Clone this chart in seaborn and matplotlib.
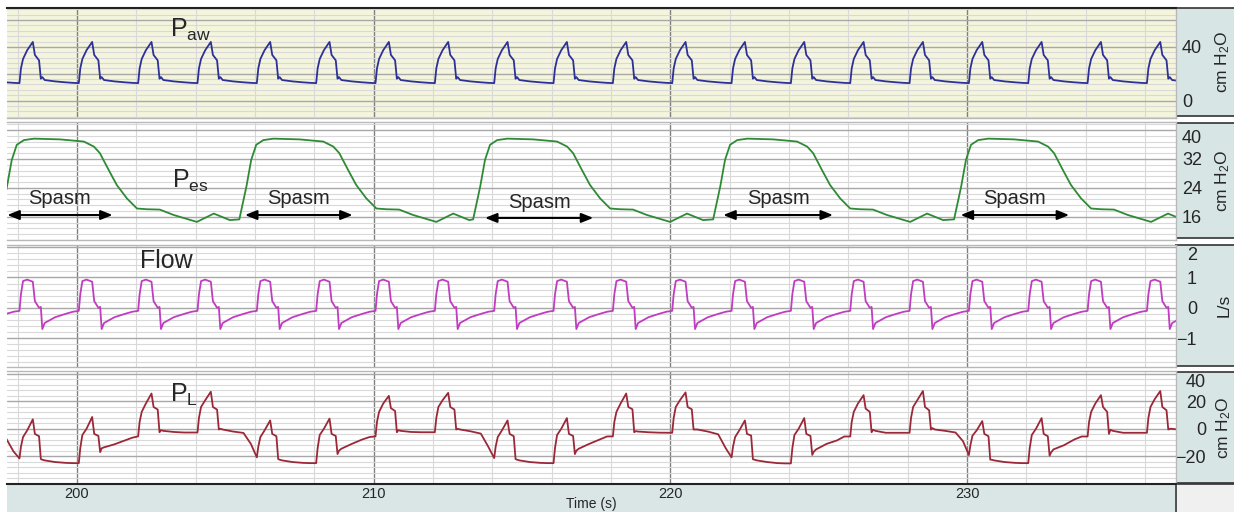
import pandas as pd
import seaborn as sns
import matplotlib.pyplot as plt
from matplotlib.ticker import MultipleLocator, FixedLocator

# ---- values ----
# onset of each ventilator breath (s)
breath_t0 = [196.06, 198.06, 200.06, 202.06, 204.06, 206.06, 208.06, 210.06, 212.06, 214.06,
             216.06, 218.06, 220.06, 222.06, 224.06, 226.06, 228.06, 230.06, 232.06, 234.06, 236.06]
# sample points inside one breath (s after onset)
breath_dt = [0.0, 0.05, 0.12, 0.26, 0.45, 0.52, 0.66, 0.72, 0.77, 0.85, 1.2, 1.55, 1.8]
paw_breath = [13, 24, 31, 37.5, 43.7, 34, 30, 16.3, 17.5, 15.3, 14.3, 13.6, 13.2]
flow_breath = [-0.1, 0.45, 0.88, 0.93, 0.86, 0.22, 0.0, 0.03, -0.7, -0.5, -0.31, -0.2, -0.13]
# transpulmonary pressure, one row per breath
pl_breaths = [
    [-2.7, 8, 15.9, 20.8, 27, 15.9, 14, -0.5, 0, -0.5, -2, -7, -16.5],
    [-21.6, -13, -6, -1.2, 6.9, -3.7, -5.4, -22, -22.5, -23, -24.2, -24.8, -25],
    [-25, -14, -4.5, 0, 8.6, -3.7, -5.2, -17, -14.2, -13.5, -11.3, -8.5, -6.5],
    [-5.5, 5, 12.3, 18.4, 25.7, 15.9, 14, -2.5, -1, -1.5, -2.3, -2.7, -2.7],
    [-2.7, 8, 15.9, 20.8, 27, 15.9, 14, -0.5, 0, -0.5, -2, -3, -11],
    [-20.8, -13, -6, -1.2, 6.1, -3.7, -5.4, -22, -22.5, -23, -24.2, -24.8, -25],
    [-25, -14, -4.5, 0, 7.4, -3.7, -5.2, -18.4, -15.9, -14.5, -11, -7.8, -6],
    [-5.5, 5, 12.3, 18.4, 24, 15, 13, -2.5, -1, -1.5, -2.3, -2.5, -2.5],
    [-2.5, 8, 15.9, 20.8, 26.2, 15.9, 14, -0.5, 0, -0.5, -1.8, -3.5, -13],
    [-21.3, -13, -6, -1.2, 6.1, -3.7, -5.4, -22, -22.5, -23, -24.2, -24.8, -25],
    [-25, -14, -4.5, 0, 7.8, -3.7, -5.2, -18.4, -15.9, -14.5, -11, -7.8, -5.6],
    [-5.5, 5, 12.3, 18.4, 25.7, 15.9, 14.2, -2.5, -1.7, -2, -2.5, -2.8, -2.9],
    [-2.9, 8, 15.9, 20.8, 26.5, 15.9, 14.2, -0.5, -0.5, -0.5, -2, -4, -14],
    [-20.8, -13, -6, -1.2, 6.1, -3.7, -4.9, -22.1, -22.5, -23, -24.2, -25, -25.2],
    [-25.2, -14, -4.5, 0, 7.8, -3.7, -5.2, -19, -16.7, -15, -11, -8.5, -5.6],
    [-5.6, 5, 12.3, 18.4, 24.5, 14.7, 12.3, -2.5, -0.7, -1.5, -2.9, -2.9, -2.9],
    [-2.9, 8, 15.9, 20.8, 27.5, 15.9, 13.5, -0.5, 0.5, -0.5, -1.5, -2.7, -9],
    [-19.1, -12, -5, -1.2, 5.6, -3.7, -5.4, -22.5, -22.5, -23, -24.2, -24.8, -25],
    [-25, -14, -4.5, 0, 7.8, -3.7, -5.4, -19.6, -17.2, -15, -12, -7.8, -5.6],
    [-5.6, 5, 12.3, 18.4, 24.5, 15.9, 12.3, -3.7, -0.7, -1.5, -2.9, -2.9, -2.9],
    [-2.9, 8, 15.9, 21.5, 27.5, 15.9, 13.5, -0.5, 0, 0, -1, -2, -3],
]
# oesophageal pressure, start of each spasm rise (s) and one spasm cycle
pes_t0 = [197.40, 205.47, 213.35, 221.44, 229.56]
pes_dt = [0, 0.24, 0.40, 0.57, 0.81, 1.15, 2.02, 2.83, 3.17, 3.37, 3.67, 3.94,
          4.28, 4.62, 4.95, 5.39, 5.86, 6.64, 7.21, 7.75]
pes_cycle = [15.3, 24.4, 31.7, 35.9, 37.2, 37.6, 37.4, 36.8, 35.4, 33.6, 28.9, 24.8,
             21.1, 18.3, 18.1, 18.0, 16.5, 14.6, 16.9, 15.1]
# spasm arrows (s)
spasm_start = [197.65, 205.66, 213.75, 221.78, 229.78]
spasm_end = [201.2, 209.29, 217.40, 225.48, 233.44]
spasm_y = [16.5, 16.5, 15.7, 16.5, 16.5]
time_ticks = [200, 210, 220, 230]


def build(t0s, dts, rows):
    t, v = [], []
    for t0, row in zip(t0s, rows):
        t.extend(t0 + d for d in dts)
        v.extend(row)
    return pd.DataFrame({'t': t, 'v': v})


paw = build(breath_t0, breath_dt, [paw_breath] * len(breath_t0))
flow = build(breath_t0, breath_dt, [flow_breath] * len(breath_t0))
pl = build(breath_t0, breath_dt, pl_breaths)
pes = build(pes_t0, pes_dt, [pes_cycle] * len(pes_t0))

sns.set_style('white')
plt.rcParams['font.family'] = ['Liberation Sans', 'DejaVu Sans']
plt.rcParams['mathtext.fontset'] = 'custom'
plt.rcParams['mathtext.rm'] = 'Liberation Sans'
plt.rcParams['mathtext.it'] = 'Liberation Sans'

W, H = 1234, 512
fig = plt.figure(figsize=(W / 100, H / 100), dpi=100)


def px_axes(x0, y0, x1, y1):
    return fig.add_axes([x0 / W, 1 - y1 / H, (x1 - x0) / W, (y1 - y0) / H])


NARROW = ['Liberation Sans Narrow', 'Liberation Sans']
MINUS = '\u2212'
BOX_FC = '#d8e5e5'

# (y0, y1, data, colour, ylim, grid majors, minor step, labels, bg, unit, box y, label x, pad, align)
panels = [
    (8, 118, paw, '#2d3196', (-13, 69), [0, 20, 40, 60], 4,
     ['0', '', '40', ''], '#f4f5dc', 'cm H$_\\mathrm{2}$O', (8, 116), 0.78, 4.3, 'left'),
    (122, 240, pes, '#2f8a35', (9.6, 42.2), [16, 24, 32, 40], 1.6,
     ['16', '24', '32', '40'], 'white', 'cm H$_\\mathrm{2}$O', (122.7, 238.3), 0.78, 4.3, 'left'),
    (245, 367, flow, '#c03cc0', (-1.95, 2.07), [-1, 0, 1, 2], 0.2,
     [MINUS + '1', '0', '1', '2'], 'white', 'L/s', (245, 366), 0.8, 15.1, 'right'),
    (371, 484, pl, '#9b2838', (-40.2, 42.1), [-40, -20, 0, 20, 40], 4,
     ['', MINUS + '20', '0', '20', '40'], 'white', 'cm H$_\\mathrm{2}$O', (371.7, 482.7), 0.8, 21.6, 'right'),
]

axes = []
for (y0, y1, df, col, ylim, majors, minor, labels, bg, unit, (by0, by1), lx, pad, ha) in panels:
    box = px_axes(1176, by0, 1236, by1)
    box.set_facecolor(BOX_FC)
    box.set_xticks([])
    box.set_yticks([])
    for s in box.spines.values():
        s.set_color('#333333')
        s.set_linewidth(1.2)
    box.text(lx, 0.5, unit, transform=box.transAxes, rotation=90, ha='center', va='center',
             fontsize=12.5)
    box.set_zorder(0)

    ax = px_axes(7, y0, 1176, y1)
    ax.set_zorder(1)
    ax.set_facecolor(bg)
    sns.lineplot(data=df, x='t', y='v', ax=ax, color=col, linewidth=1.3,
                 estimator=None, sort=False, legend=False)
    ax.set_xlim(197.64, 237.04)
    ax.set_ylim(*ylim)
    ax.set_xlabel('')
    ax.set_ylabel('')
    ax.xaxis.set_major_locator(MultipleLocator(10))
    ax.xaxis.set_minor_locator(MultipleLocator(2))
    ax.yaxis.set_major_locator(FixedLocator(majors))
    ax.yaxis.set_minor_locator(MultipleLocator(minor))
    ax.set_yticklabels(labels)
    ax.yaxis.tick_right()
    ax.tick_params(axis='y', which='both', length=0, pad=pad, labelsize=13)
    ax.tick_params(axis='x', which='both', length=0, labelbottom=False)
    for lab, v in zip(ax.get_yticklabels(), majors):
        lab.set_fontfamily(NARROW)
        lab.set_ha(ha)
        if v == majors[-1] and v + (ylim[1] - ylim[0]) * 0.1 > ylim[1]:
            lab.set_va('top')
    ax.grid(True, which='minor', axis='both', color='#d9d9d9', linewidth=0.8)
    ax.grid(True, which='major', axis='y', color='#a8a8a8', linewidth=1.0)
    ax.grid(True, which='major', axis='x', color='#808080', linewidth=1.0)
    ax.set_axisbelow(True)
    for s in ax.spines.values():
        s.set_color('#b8b8b8')
        s.set_linewidth(1.0)
    ax.spines['left'].set_visible(False)
    axes.append(ax)

axes[0].spines['top'].set_color('#222222')
axes[0].spines['top'].set_linewidth(1.5)
axes[3].spines['bottom'].set_color('#222222')
axes[3].spines['bottom'].set_linewidth(1.5)

# time axis strip
strip = px_axes(7, 485, 1175, 514)
strip.set_facecolor('#dae6e6')
strip.set_xticks([])
strip.set_yticks([])
for s in strip.spines.values():
    s.set_visible(False)
strip.set_zorder(0)
corner = px_axes(1176, 484, 1236, 514)
corner.set_facecolor('#f0f0f0')
corner.set_xticks([])
corner.set_yticks([])
for s in corner.spines.values():
    s.set_color('#333333')
    s.set_linewidth(1.2)
corner.set_zorder(0)

ax4 = axes[3]
ax4.set_xticks(time_ticks)
ax4.set_xticklabels([str(t) for t in time_ticks])
ax4.tick_params(axis='x', which='major', labelbottom=True, pad=2, labelsize=10.5)
ax4.set_xlabel('Time (s)', fontsize=10, labelpad=-3)

# trace names
axes[0].text(0.1394, 0.734, '$\\mathrm{P_{aw}}$', transform=axes[0].transAxes,
             fontsize=18, ha='left', va='baseline')
axes[1].text(0.1411, 0.441, '$\\mathrm{P_{es}}$', transform=axes[1].transAxes,
             fontsize=18, ha='left', va='baseline')
axes[2].text(0.1138, 0.811, 'Flow', transform=axes[2].transAxes,
             fontsize=18, ha='left', va='baseline')
axes[3].text(0.1394, 0.726, '$\\mathrm{P_{L}}$', transform=axes[3].transAxes,
             fontsize=18, ha='left', va='baseline')

# spasm arrows
for a, b, y in zip(spasm_start, spasm_end, spasm_y):
    axes[1].annotate('', xy=(b, y), xytext=(a, y),
                     arrowprops=dict(arrowstyle='<|-|>,head_length=0.5,head_width=0.2',
                                     color='black', lw=1.5, shrinkA=0, shrinkB=0,
                                     mutation_scale=14))
    axes[1].text((a + b) / 2, y + 4.7 - (16.5 - y) * 0.5, 'Spasm', ha='center', va='center',
                 fontsize=14.5)

fig.savefig('out.png', dpi=100)
